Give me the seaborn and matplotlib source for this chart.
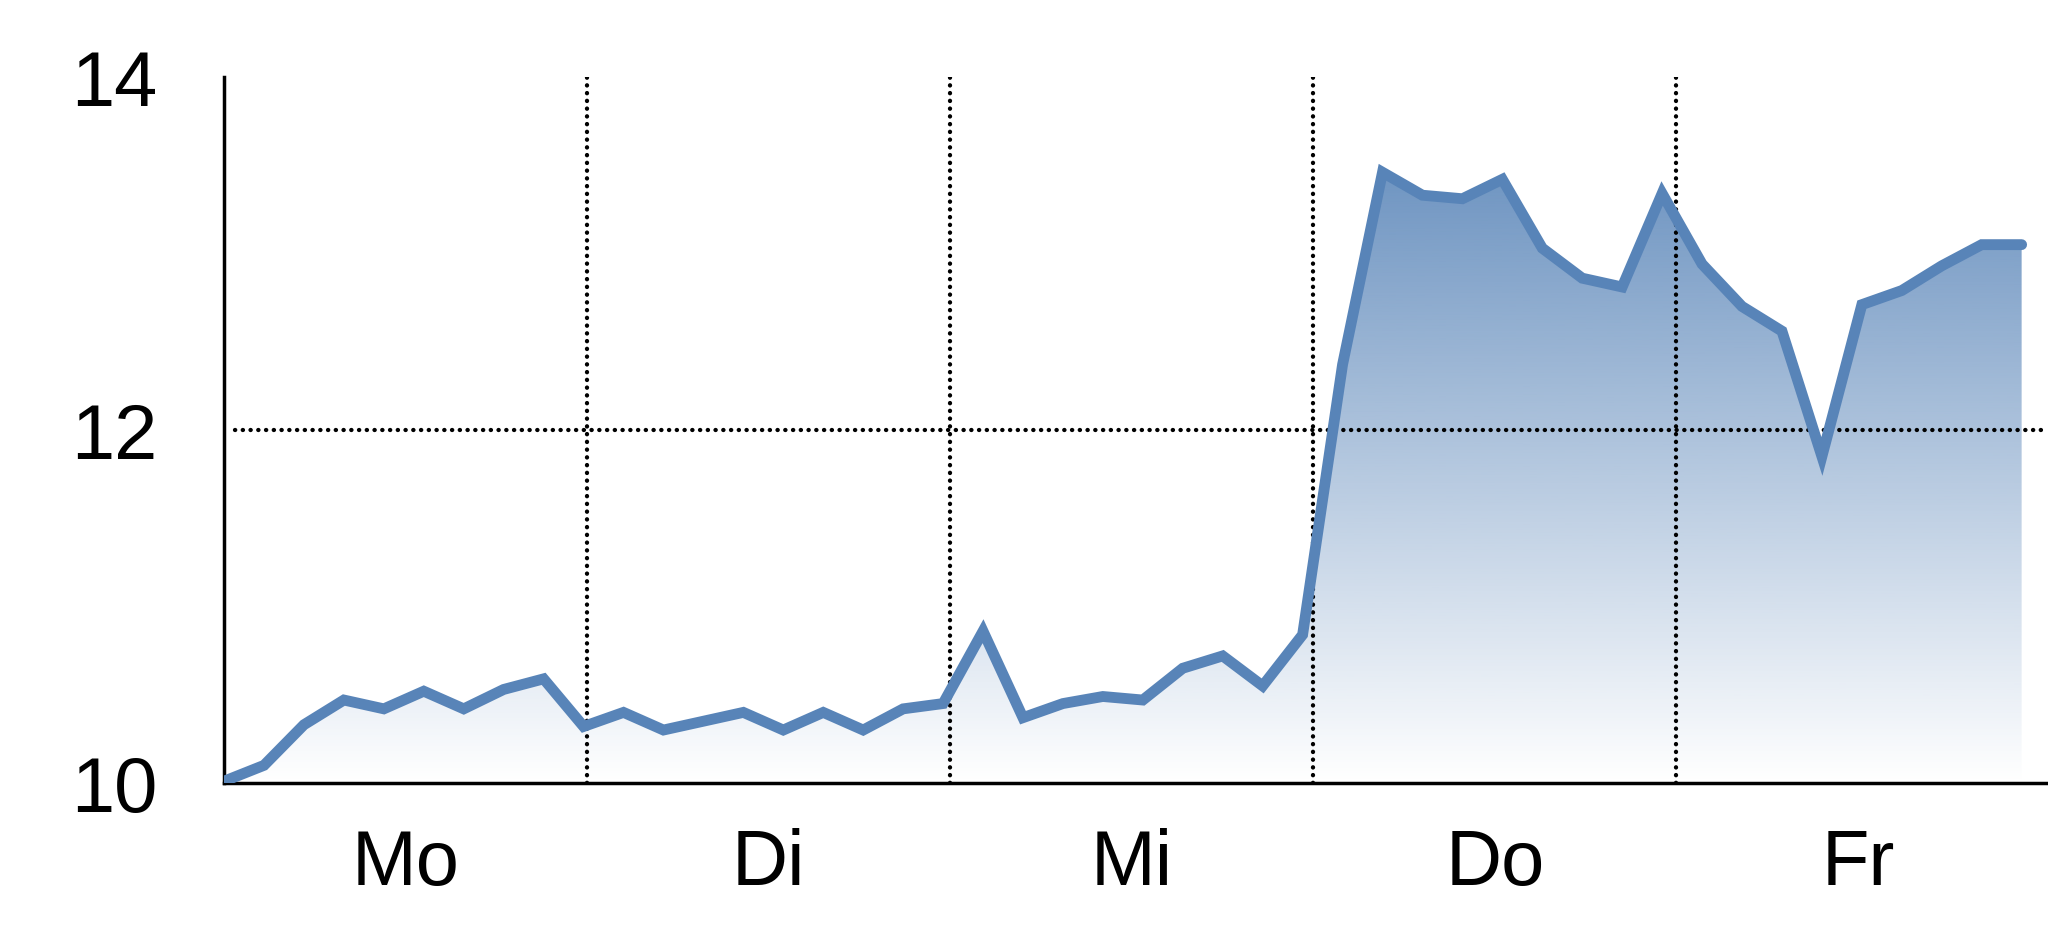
import matplotlib
matplotlib.use("Agg")

import matplotlib.pyplot as plt
import numpy as np
import pandas as pd
import seaborn as sns
from matplotlib.colors import to_rgb

# ── Data ──────────────────────────────────────────────────────────────────────
days = ["Mo", "Di", "Mi", "Do", "Fr"]
values = [
    10.01, 10.10, 10.33, 10.47, 10.42, 10.52, 10.42, 10.53, 10.59, 10.32,
    10.40, 10.30, 10.35, 10.40, 10.30, 10.40, 10.30, 10.42, 10.45, 10.86,
    10.37, 10.45, 10.49, 10.47, 10.65, 10.72, 10.55, 10.84, 12.37, 13.46,
    13.33, 13.31, 13.42, 13.03, 12.86, 12.81, 13.34, 12.94, 12.70, 12.56,
    11.85, 12.71, 12.79, 12.93, 13.05, 13.05,
]
y_ticks = [10, 12, 14]

df = pd.DataFrame({"step": np.arange(len(values)), "value": values})

LINE = "#5884b8"
DAY_WIDTH = 9.09

sns.set_style("white")
plt.rcParams["font.family"] = ["Liberation Sans", "DejaVu Sans"]

fig = plt.figure(figsize=(20.48, 9.37), dpi=100)
ax = fig.add_axes([0.1094, 0.1633, 0.8906, 0.7535])

ymin, ymax = 10, 14
xmax = 45.66

# gradient fill under the line (transparent at 10 -> solid at 14)
poly = ax.fill_between(df["step"], df["value"], ymin, color="none", lw=0)
grad = np.linspace(0, 1, 256).reshape(-1, 1)
rgba = np.zeros((256, 1, 4))
rgba[..., :3] = to_rgb(LINE)
rgba[..., 3] = grad
img = ax.imshow(rgba, extent=[0, df["step"].max(), ymin, ymax], origin="lower",
                aspect="auto", zorder=1)
img.set_clip_path(poly.get_paths()[0], transform=ax.transData)

sns.lineplot(data=df, x="step", y="value", ax=ax, color=LINE, lw=7.8,
             solid_joinstyle="miter", solid_capstyle="round", zorder=3)

# dotted grid: day boundaries and the 12 line
dots = dict(color="black", lw=3.1, linestyle=(0, (0.05, 1.75)),
            dash_capstyle="round", zorder=2)
for k in range(1, len(days)):
    ax.axvline(k * DAY_WIDTH, **dots)
ax.axhline(12, xmin=0.006, **dots)

ax.set_xlim(0, xmax)
ax.set_ylim(ymin, ymax)
ax.set_yticks(y_ticks)
ax.set_yticklabels([str(t) for t in y_ticks])
ax.set_xticks([(k + 0.5) * DAY_WIDTH for k in range(len(days))])
ax.set_xticklabels(days)
ax.tick_params(axis="both", length=0, labelsize=56, colors="black")
ax.tick_params(axis="y", pad=48)
ax.tick_params(axis="x", pad=32)
ax.set_xlabel("")
ax.set_ylabel("")

for side in ["top", "right"]:
    ax.spines[side].set_visible(False)
for side in ["left", "bottom"]:
    ax.spines[side].set_color("black")
    ax.spines[side].set_linewidth(2.5)

fig.savefig("out.png", dpi=100)
